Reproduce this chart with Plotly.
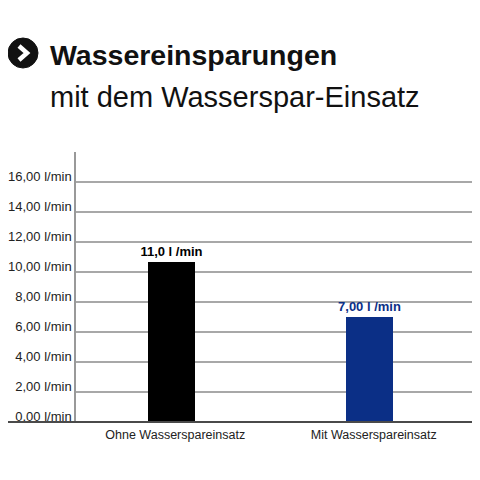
import plotly.graph_objects as go

categories = ["Ohne Wasserspareinsatz", "Mit Wasserspareinsatz"]
values = [10.7, 7.0]
value_labels = ["11,0 l /min", "7,00 l /min"]
bar_colors = ["#000000", "#0b2f86"]
label_colors = ["#000000", "#0b2f86"]
tick_vals = [0, 2, 4, 6, 8, 10, 12, 14, 16]
tick_text = ["0,00 l/min", "2,00 l/min", "4,00 l/min", "6,00 l/min", "8,00 l/min",
             "10,00 l/min", "12,00 l/min", "14,00 l/min", "16,00 l/min"]
title1 = "Wassereinsparungen"
title2 = "mit dem Wasserspar-Einsatz"

FONT = "Liberation Sans, Arial, sans-serif"

# the page body has an 8px margin; positions below are window pixels, shifted by it
OFF = 8
W, H = 480, 480
# target (window) pixel positions of the plot area
PL, PR, PT, PB = 76, 475, 152, 422
ML, MT = PL - OFF, PT - OFF
MR, MB = W - (PR - OFF), H - (PB - OFF)
PW = PR - PL
PH = PB - PT


def px(x):
    return (x - PL) / PW


def py(y):
    return (PB - y) / PH


fig = go.Figure()
fig.add_trace(go.Bar(
    x=[0, 1], y=values, width=0.237,
    marker=dict(color=bar_colors, line=dict(width=0)),
    text=["<b>" + t + "</b>" for t in value_labels], textposition="outside",
    constraintext="none",
    textfont=dict(family=FONT, size=13, color=label_colors),
    cliponaxis=False, hoverinfo="skip",
))

fig.update_layout(
    width=W, height=H,
    margin=dict(l=ML, r=MR, t=MT, b=MB, autoexpand=False),
    plot_bgcolor="white", paper_bgcolor="white",
    showlegend=False,
    font=dict(family=FONT, color="#222222"),
    xaxis=dict(
        range=[-0.48, 1.53], tickvals=[0.02, 1.02], ticktext=categories,
        showgrid=False, zeroline=False, showline=False, automargin=False,
        tickfont=dict(family=FONT, size=12.5, color="#222222"),
        ticks="", fixedrange=True, ticklabelstandoff=3,
    ),
    yaxis=dict(
        range=[0, 18], tickvals=tick_vals, ticktext=tick_text,
        showgrid=True, gridcolor="#a8a8a8", gridwidth=1.5, automargin=False,
        zeroline=False, showline=True, linecolor="#999999", linewidth=1.5,
        tickfont=dict(family=FONT, size=13, color="#222222"),
        ticks="", fixedrange=True, ticklabelshift=-6,
    ),
    bargap=0,
)

# baseline extending to the left
fig.add_shape(type="line", xref="paper", yref="paper",
              x0=px(5), x1=1, y0=0, y1=0,
              line=dict(color="#4a4a4a", width=2))

# icon: black circle with white chevron
fig.add_shape(type="circle", xref="paper", yref="paper",
              x0=px(8), x1=px(38), y0=py(68), y1=py(38),
              fillcolor="#111111", line=dict(color="#111111", width=1))
fig.add_shape(type="path", xref="paper", yref="paper",
              path=f"M {px(19)} {py(46)} L {px(27)} {py(53)} L {px(19)} {py(60)}",
              line=dict(color="white", width=4.5))

fig.add_annotation(text="<b>" + title1 + "</b>", xref="paper", yref="paper",
                   x=px(48), y=py(55), xanchor="left", yanchor="middle",
                   showarrow=False, font=dict(family=FONT, size=28.5, color="#111111"))
fig.add_annotation(text=title2, xref="paper", yref="paper",
                   x=px(48), y=py(96.5), xanchor="left", yanchor="middle",
                   showarrow=False, font=dict(family=FONT, size=29, color="#111111"))

fig.write_html("out.html")
